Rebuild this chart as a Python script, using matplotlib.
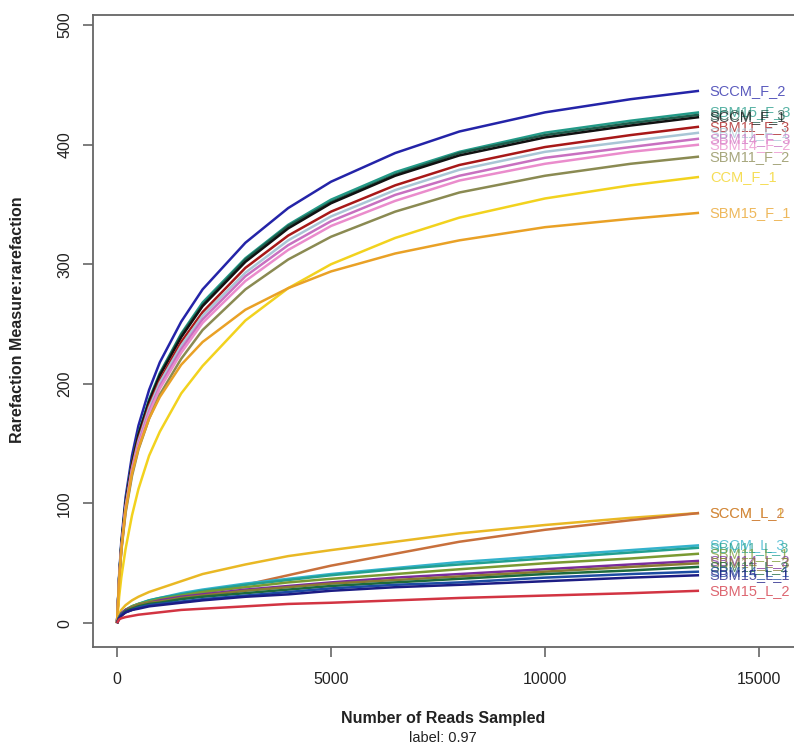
import numpy as np
import matplotlib
matplotlib.use('Agg')
import matplotlib.pyplot as plt

plt.rcParams['font.family'] = ['Liberation Sans', 'DejaVu Sans']

# Reads sampled (x) shared by every curve
reads = [0, 50, 100, 200, 350, 500, 750, 1000, 1500, 2000, 3000, 4000, 5000,
         6500, 8000, 10000, 12000, 13600]

# F samples (upper group)
names_f = ['SCCM_F_2', 'SBM15_F_3', 'SCCM_F_3', 'SCCM_F_1', 'SBM11_F_3', 'SBM11_F_1',
           'SBM14_F_3', 'SBM14_F_2', 'SBM11_F_2', 'CCM_F_1', 'SBM15_F_1']
colors_f = ['#2424a8', '#239a88', '#1d5e4c', '#111111', '#a81818', '#a9c6d6',
            '#c870c0', '#ea8ccc', '#8a8a52', '#f2d21e', '#e9a126']
values_f = [
    [0, 40, 68, 105, 140, 165, 195, 218, 252, 279, 318, 347, 369, 393, 411, 427, 438, 445],
    [0, 38, 65, 101, 134, 158, 187, 209, 242, 268, 305, 333, 354, 377, 394, 410, 420, 427],
    [0, 38, 65, 100, 134, 158, 186, 208, 241, 266, 304, 332, 352, 375, 393, 408, 418, 425],
    [0, 38, 64, 100, 133, 157, 185, 207, 239, 265, 302, 330, 351, 374, 391, 406, 416, 423],
    [0, 37, 63, 98, 131, 154, 182, 203, 235, 260, 297, 324, 344, 366, 383, 398, 408, 415],
    [0, 37, 62, 97, 129, 152, 180, 201, 232, 257, 293, 320, 340, 362, 379, 394, 403, 410],
    [0, 36, 62, 96, 128, 150, 177, 198, 229, 254, 290, 316, 336, 358, 374, 389, 398, 405],
    [0, 36, 61, 94, 126, 148, 175, 196, 226, 251, 286, 312, 332, 353, 370, 384, 394, 400],
    [0, 35, 60, 92, 123, 145, 171, 191, 221, 245, 279, 304, 323, 344, 360, 374, 384, 390],
    [0, 22, 38, 62, 90, 112, 140, 160, 192, 215, 253, 280, 300, 322, 339, 355, 366, 373],
    [0, 36, 61, 94, 125, 146, 171, 189, 216, 235, 262, 280, 294, 309, 320, 331, 338, 343],
]

# L samples (lower group)
names_l = ['SCCM_L_1', 'SCCM_L_2', 'SCCM_L_3', 'SBM11_L_3', 'SBM11_L_1', 'SBM14_L_2',
           'SBM14_L_3', 'SBM11_L_2', 'SBM14_L_1', 'SBM15_L_1', 'SBM15_L_2']
colors_l = ['#e9b824', '#c8703c', '#33b2cc', '#22a090', '#7a9a32', '#7a2c9c',
            '#8a7a32', '#1c6a3c', '#1c4ca2', '#1c1c84', '#d23442']
values_l = [
    [0, 7, 11, 15, 19, 22, 26, 29, 35, 41, 49, 56, 61, 68, 75, 82, 88, 92],
    [0, 4, 6, 9, 11, 13, 15, 17, 21, 25, 32, 40, 48, 58, 68, 78, 86, 92],
    [0, 5, 8, 11, 14, 16, 19, 21, 25, 28, 33, 37, 41, 46, 51, 56, 61, 65],
    [0, 5, 8, 11, 14, 16, 19, 21, 24, 27, 32, 36, 40, 45, 49, 54, 59, 63],
    [0, 5, 8, 11, 14, 16, 18, 20, 23, 26, 30, 34, 37, 41, 45, 50, 54, 58],
    [0, 5, 8, 11, 13, 15, 17, 19, 22, 24, 28, 31, 34, 38, 41, 45, 49, 52],
    [0, 5, 7, 10, 13, 15, 17, 18, 21, 23, 27, 30, 33, 36, 39, 43, 47, 50],
    [0, 4, 7, 10, 12, 14, 16, 17, 20, 22, 25, 28, 31, 34, 37, 41, 44, 47],
    [0, 4, 7, 9, 11, 13, 15, 16, 18, 20, 23, 26, 29, 32, 34, 38, 41, 43],
    [0, 4, 6, 9, 11, 12, 14, 15, 17, 19, 22, 24, 27, 30, 32, 35, 38, 40],
    [0, 3, 4, 5, 6, 7, 8, 9, 11, 12, 14, 16, 17, 19, 21, 23, 25, 27],
]

fig = plt.figure(figsize=(7.94, 7.48), dpi=100)
ax = fig.add_axes([93 / 794, 101 / 748, 701 / 794, 632 / 748])

label_x = 13850
for name, col, vals in zip(names_f + names_l, colors_f + colors_l, values_f + values_l):
    ax.plot(reads, vals, color=col, lw=1.8, solid_capstyle='butt')
    ax.text(label_x, vals[-1], name, color=col, alpha=0.75, fontsize=10.5,
            va='center', ha='left')

ax.set_xlim(-561, 15818)
ax.set_ylim(-20, 508.4)
ax.set_xticks([0, 5000, 10000, 15000])
ax.set_yticks([0, 100, 200, 300, 400, 500])
ax.spines['right'].set_visible(False)
for s in ['left', 'bottom', 'top']:
    ax.spines[s].set_color('#666666')
    ax.spines[s].set_linewidth(1.3)
ax.tick_params(axis='both', direction='out', length=7, width=1.2, color='#666666',
               labelsize=11.5, labelcolor='#222222')
ax.tick_params(axis='x', pad=11)
ax.tick_params(axis='y', pad=8)
for t in ax.get_yticklabels():
    t.set_rotation(90)
    t.set_va('center')

fig.text(443 / 794, 1 - 718 / 748, 'Number of Reads Sampled', fontsize=11.5,
         fontweight='bold', ha='center', va='center', color='#222222')
fig.text(443 / 794, 1 - 738 / 748, 'label: 0.97', fontsize=10.5,
         ha='center', va='center', color='#222222')
fig.text(18 / 794, 1 - 320 / 748, 'Rarefaction Measure:rarefaction', fontsize=11.5,
         fontweight='bold', rotation=90, ha='center', va='center', color='#222222')

fig.savefig('out.png', dpi=100)
